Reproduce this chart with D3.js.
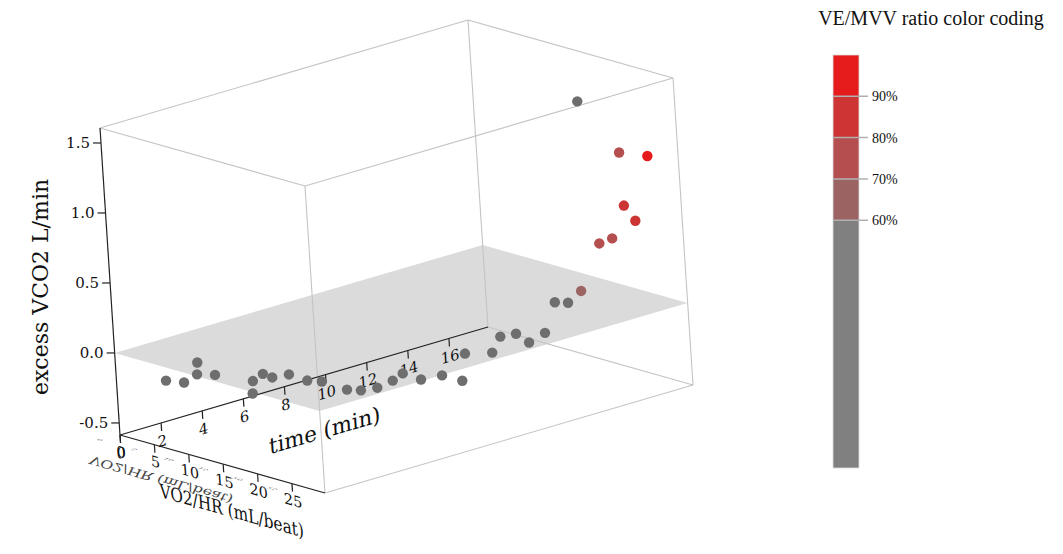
<!DOCTYPE html>
<html>
<head>
<meta charset="utf-8">
<script src="https://cdnjs.cloudflare.com/ajax/libs/d3/7.8.5/d3.min.js"></script>
<style>
body { margin: 0; background: #fff; }
svg text { font-family: "DejaVu Serif", serif; fill: #111; }
.legend text { font-family: "Liberation Serif", serif; fill: #111; }
</style>
</head>
<body>
<div id="chart"></div>
<script>
var width = 1063, height = 554;

// readings per point (time, VO2/HR, excess VCO2, VE/MVV ratio)
var timeMin = [0.4, 0.9, 1.4, 1.9, 2.4, 2.9, 3.4, 3.9, 4.4, 4.9, 5.4, 5.9, 6.4, 6.9, 7.4, 7.9, 8.4, 8.9,
               9.4, 9.9, 10.4, 10.9, 11.4, 11.9, 12.4, 12.9, 13.4, 13.9, 14.4, 14.9, 15.4, 15.9, 16.4, 16.9, 17.4, 17.9];
var vo2hr = [6.1, 7.2, 7.8, 6.1, 7.2, 11.2, 11.2, 11.0, 6.4, 10.4, 11.5, 12.1, 14.2, 14.7, 15.6, 16.4, 16.4, 17.5,
             19.1, 20.5, 19.6, 22.1, 21.9, 22.7, 23.0, 23.9, 24.1, 24.5, 25.0, 26.6, 27.0, 27.5, 27.5, 24.2, 26.8, 15.4];
var excessVCO2 = [-0.13, -0.15, -0.02, -0.15, -0.16, -0.17, -0.14, -0.19, -0.39, -0.22, -0.27, -0.29, -0.34, -0.36, -0.35, -0.31, -0.28, -0.33,
                  -0.30, -0.34, -0.18, -0.16, -0.07, -0.06, -0.14, -0.08, 0.12, 0.10, 0.17, 0.51, 0.53, 0.75, 0.62, 1.04, 1.03, 1.24];
var veMvv = [0.22, 0.24, 0.25, 0.27, 0.28, 0.30, 0.31, 0.32, 0.33, 0.34, 0.35, 0.36, 0.37, 0.38, 0.39, 0.40, 0.41, 0.42,
             0.43, 0.44, 0.45, 0.46, 0.48, 0.49, 0.50, 0.52, 0.54, 0.57, 0.64, 0.74, 0.76, 0.86, 0.84, 0.79, 0.95, 0.52];

var timeDomain = [0, 17.9];
var vo2Domain = [0, 29.8];
var vco2Domain = [-0.586, 1.607];

var timeTicks = [0, 2, 4, 6, 8, 10, 12, 14, 16];
var vo2Ticks = [0, 5, 10, 15, 20, 25];
var vco2Ticks = [-0.5, 0.0, 0.5, 1.0, 1.5];
var ratioTicks = [0.6, 0.7, 0.8, 0.9];
var ratioColors = ["#808080", "#9c6363", "#b54e4e", "#cd3535", "#e61b1b"];

// projected box: origin and screen vectors of the three axes
var origin = [120, 435];
var tVec = [368, -108], vVec = [205, 58], zVec = [-20, -307];

var tScale = d3.scaleLinear().domain(timeDomain).range([0, 1]);
var vScale = d3.scaleLinear().domain(vo2Domain).range([0, 1]);
var zScale = d3.scaleLinear().domain(vco2Domain).range([0, 1]);

function project(t, v, z) {
    var a = tScale(t), b = vScale(v), c = zScale(z);
    return [origin[0] + a * tVec[0] + b * vVec[0] + c * zVec[0],
            origin[1] + a * tVec[1] + b * vVec[1] + c * zVec[1]];
}

var colorScale = d3.scaleThreshold().domain(ratioTicks).range(ratioColors);

var svg = d3.select("#chart").append("svg")
    .attr("width", width)
    .attr("height", height);

var t0 = timeDomain[0], t1 = timeDomain[1];
var v0 = vo2Domain[0], v1 = vo2Domain[1];
var z0 = vco2Domain[0], z1 = vco2Domain[1];

// z = 0 plane
var plane = [project(t0, v0, 0), project(t1, v0, 0), project(t1, v1, 0), project(t0, v1, 0)];
svg.append("polygon")
    .attr("points", plane.map(function(p) { return p.join(","); }).join(" "))
    .attr("fill", "#d9d9d9")
    .attr("fill-opacity", 0.95);

// box edges
var edges = [
    [[t0, v0, z1], [t1, v0, z1]], [[t1, v0, z1], [t1, v1, z1]], [[t1, v1, z1], [t0, v1, z1]], [[t0, v1, z1], [t0, v0, z1]],
    [[t1, v0, z0], [t1, v1, z0]], [[t1, v1, z0], [t0, v1, z0]],
    [[t1, v0, z0], [t1, v0, z1]], [[t1, v1, z0], [t1, v1, z1]], [[t0, v1, z0], [t0, v1, z1]]
];
svg.append("g").selectAll("line")
    .data(edges)
    .enter().append("line")
    .attr("x1", function(d) { return project.apply(null, d[0])[0]; })
    .attr("y1", function(d) { return project.apply(null, d[0])[1]; })
    .attr("x2", function(d) { return project.apply(null, d[1])[0]; })
    .attr("y2", function(d) { return project.apply(null, d[1])[1]; })
    .attr("stroke", "#c4c4c4")
    .attr("stroke-width", 1.1);

// axes lines
var axes = [
    [[t0, v0, z0], [t0, v0, z1]],
    [[t0, v0, z0], [t1, v0, z0]],
    [[t0, v0, z0], [t0, v1, z0]]
];
svg.append("g").selectAll("line")
    .data(axes)
    .enter().append("line")
    .attr("x1", function(d) { return project.apply(null, d[0])[0]; })
    .attr("y1", function(d) { return project.apply(null, d[0])[1]; })
    .attr("x2", function(d) { return project.apply(null, d[1])[0]; })
    .attr("y2", function(d) { return project.apply(null, d[1])[1]; })
    .attr("stroke", "#222")
    .attr("stroke-width", 1.2);

// unit vectors used for text lying in the box planes
var zLen = Math.hypot(zVec[0], zVec[1]);
var down = [-zVec[0] / zLen, -zVec[1] / zLen];
var tLen = Math.hypot(tVec[0], tVec[1]);
var tU = [tVec[0] / tLen, tVec[1] / tLen];
var vLen = Math.hypot(vVec[0], vVec[1]);
var vU = [vVec[0] / vLen, vVec[1] / vLen];

function planeMatrix(u, w, p) {
    return "matrix(" + [u[0], u[1], w[0], w[1], p[0], p[1]].join(",") + ")";
}

var fmt = d3.format(".1f");

// z axis ticks
var zAxis = svg.append("g");
vco2Ticks.forEach(function(z) {
    var p = project(t0, v0, z);
    zAxis.append("line")
        .attr("x1", p[0] - 8).attr("x2", p[0])
        .attr("y1", p[1]).attr("y2", p[1])
        .attr("stroke", "#222").attr("stroke-width", 1.2);
    zAxis.append("text")
        .attr("x", p[0] - 11).attr("y", p[1])
        .attr("dy", "0.35em")
        .attr("text-anchor", "end")
        .style("font-size", "15px")
        .text(fmt(z).replace("\u2212", "-"));
});

svg.append("text")
    .attr("transform", "translate(40,287) rotate(-90)")
    .attr("text-anchor", "middle")
    .attr("dy", "0.35em")
    .style("font-size", "22px")
    .text("excess VCO2 L/min");

// time axis ticks
var tAxis = svg.append("g");
timeTicks.forEach(function(t) {
    var p = project(t, v0, z0);
    tAxis.append("line")
        .attr("x1", p[0]).attr("y1", p[1])
        .attr("x2", p[0] + down[0] * 8).attr("y2", p[1] + down[1] * 8)
        .attr("stroke", "#222").attr("stroke-width", 1.2);
    tAxis.append("text")
        .attr("transform", planeMatrix(tU, down, [p[0] + down[0] * 18, p[1] + down[1] * 18]))
        .attr("text-anchor", "middle")
        .attr("dy", "0.35em")
        .style("font-size", "15px")
        .text(t);
});
var tl = project(9.4, v0, z0);
svg.append("text")
    .attr("transform", planeMatrix(tU, down, [tl[0] + down[0] * 52 + 8, tl[1] + down[1] * 52]))
    .attr("text-anchor", "middle")
    .attr("dy", "0.35em")
    .style("font-size", "22px")
    .text("time (min)");

// VO2/HR axis ticks
var vAxis = svg.append("g");
var flip = [0.3, -0.62];
vo2Ticks.forEach(function(v) {
    var p = project(t0, v, z0);
    vAxis.append("line")
        .attr("x1", p[0]).attr("y1", p[1])
        .attr("x2", p[0] + down[0] * 8).attr("y2", p[1] + down[1] * 8)
        .attr("stroke", "#222").attr("stroke-width", 1.2);
    vAxis.append("text")
        .attr("transform", planeMatrix(vU, down, [p[0] + down[0] * 17, p[1] + down[1] * 17]))
        .attr("text-anchor", "middle")
        .attr("dy", "0.35em")
        .style("font-size", "15px")
        .text(v);
    // back side copy of the tick label
    vAxis.append("text")
        .attr("transform", planeMatrix(vU, [0.5, -0.25], [p[0] - 20, p[1] + 5]))
        .attr("text-anchor", "middle")
        .attr("dy", "0.35em")
        .style("font-size", "8px")
        .style("fill", "#666")
        .text(v);
});
var vl = project(t0, 15.8, z0);
svg.append("text")
    .attr("transform", planeMatrix(vU, down, [vl[0] + down[0] * 45, vl[1] + down[1] * 45]))
    .attr("text-anchor", "middle")
    .attr("dy", "0.35em")
    .attr("textLength", 150)
    .attr("lengthAdjust", "spacingAndGlyphs")
    .style("font-size", "19px")
    .text("VO2/HR (mL/beat)");
svg.append("text")
    .attr("transform", planeMatrix(vU, flip, [163, 476]))
    .attr("text-anchor", "middle")
    .attr("textLength", 148)
    .attr("lengthAdjust", "spacingAndGlyphs")
    .style("font-size", "17px")
    .style("fill", "#444")
    .text("VO2/HR (mL/beat)");

// data points
var points = timeMin.map(function(t, i) {
    return {t: t, v: vo2hr[i], z: excessVCO2[i], r: veMvv[i]};
});
svg.append("g").selectAll("circle")
    .data(points)
    .enter().append("circle")
    .attr("cx", function(d) { return project(d.t, d.v, d.z)[0]; })
    .attr("cy", function(d) { return project(d.t, d.v, d.z)[1]; })
    .attr("r", 5.2)
    .attr("fill", function(d) { return d.r < ratioTicks[0] ? "#6e6e6e" : colorScale(d.r); });

// legend
var legend = svg.append("g").attr("class", "legend");
var legendY = d3.scaleLinear().domain([0, 1]).range([468, 55]);
var bounds = [0].concat(ratioTicks).concat([1]);
legend.selectAll("rect")
    .data(d3.range(bounds.length - 1))
    .enter().append("rect")
    .attr("x", 833)
    .attr("width", 26)
    .attr("y", function(i) { return legendY(bounds[i + 1]); })
    .attr("height", function(i) { return legendY(bounds[i]) - legendY(bounds[i + 1]); })
    .attr("fill", function(i) { return ratioColors[i]; });
legend.append("rect")
    .attr("x", 833).attr("y", legendY(1))
    .attr("width", 26).attr("height", legendY(0) - legendY(1))
    .attr("fill", "none").attr("stroke", "#ddd").attr("stroke-width", 0.8);
legend.selectAll("line")
    .data(ratioTicks)
    .enter().append("line")
    .attr("x1", 833).attr("x2", 868)
    .attr("y1", function(d) { return legendY(d); })
    .attr("y2", function(d) { return legendY(d); })
    .attr("stroke", "#b0b0b0").attr("stroke-width", 1.5);
legend.selectAll("text.tick")
    .data(ratioTicks)
    .enter().append("text")
    .attr("class", "tick")
    .attr("x", 872)
    .attr("y", function(d) { return legendY(d); })
    .attr("dy", "0.35em")
    .style("font-size", "14px")
    .text(function(d) { return d3.format(".0%")(d); });
legend.append("text")
    .attr("x", 931).attr("y", 25)
    .attr("text-anchor", "middle")
    .style("font-size", "20px")
    .text("VE/MVV ratio color coding");
</script>
</body>
</html>
